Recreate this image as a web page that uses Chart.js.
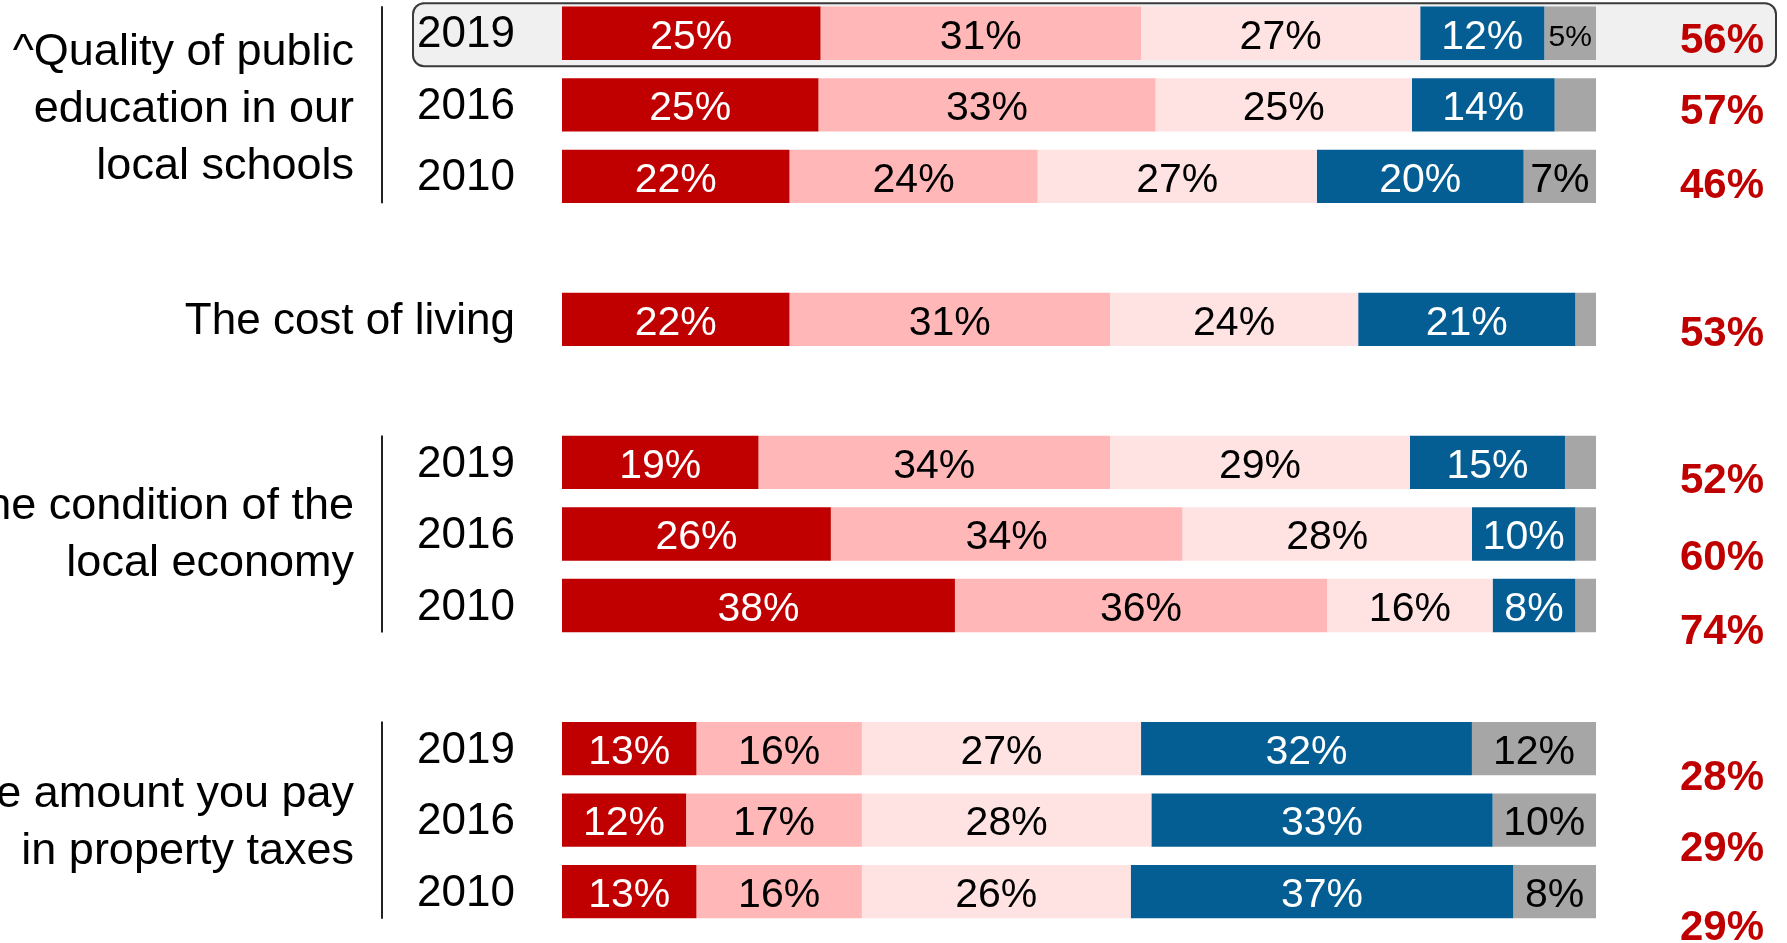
<!DOCTYPE html>
<html>
<head>
<meta charset="utf-8">
<title>Local problems</title>
<script src="https://cdn.jsdelivr.net/npm/chart.js@4.4.1/dist/chart.umd.min.js"></script>
<style>
  html, body { margin: 0; padding: 0; background: #fff; overflow: hidden; }
  #wrap { position: absolute; left: 0; top: -10px; width: 1787px; height: 960px; }
</style>
</head>
<body>
<div id="wrap"><canvas id="myChart"></canvas></div>
<script>
// rows top to bottom, "" is an empty spacer row
const rowLabels = ["2019", "2016", "2010", "", "The cost of living", "", "2019", "2016", "2010", "", "2019", "2016", "2010"];
const verySerious = [25, 24.8, 22, null, 22, null, 19, 26, 38, null, 13, 12, 13];
const somewhatSerious = [31, 32.6, 24, null, 31, null, 34, 34, 36, null, 16, 17, 16];
const notTooSerious = [27, 24.8, 27, null, 24, null, 29, 28, 16, null, 27, 28, 26];
const notSerious = [12, 13.8, 20, null, 21, null, 15, 10, 8, null, 32, 33, 37];
const dontKnow = [5, 4, 7, null, 2, null, 3, 2, 2, null, 12, 10, 8];
const netSerious = [56, 57, 46, null, 53, null, 52, 60, 74, null, 28, 29, 29];

const groupNames = [
  ["^Quality of public", "education in our", "local schools"],
  ["The condition of the", "local economy"],
  ["The amount you pay", "in property taxes"]
];
const groupRows = [[0, 2], [6, 8], [10, 12]];
const highlightRow = 0;

// layout bits (px), the net column in the original sits a bit lower than the bars
const netShift = [8, 8, 10, 0, 15, 0, 19, 24, 27, 0, 30, 29, 37];
const groupShift = [17, 14, 15];
const FONT = "'Liberation Sans', Arial, sans-serif";
const colors = ["#C00000", "#FFB7B7", "#FFE3E3", "#055E93", "#A6A6A6"];
const textColors = ["#fff", "#000", "#000", "#fff", "#000"];

const overlay = {
  id: "overlay",
  beforeDraw(chart) {
    // grey rounded box behind the highlighted row
    const ctx = chart.ctx;
    const area = chart.chartArea;
    const yc = chart.scales.y.getPixelForValue(highlightRow);
    const x0 = area.left - 149, x1 = area.right + 180;
    const y0 = yc - 30, y1 = yc + 33;
    ctx.save();
    ctx.beginPath();
    ctx.roundRect(x0, y0, x1 - x0, y1 - y0, 11);
    ctx.fillStyle = "#F0F0F0";
    ctx.fill();
    ctx.lineWidth = 2;
    ctx.strokeStyle = "#3a3a3a";
    ctx.stroke();
    ctx.restore();
  },
  afterDatasetsDraw(chart) {
    // percent inside each segment
    const ctx = chart.ctx;
    ctx.save();
    ctx.textAlign = "center";
    ctx.textBaseline = "middle";
    chart.data.datasets.forEach(function (ds, i) {
      const meta = chart.getDatasetMeta(i);
      meta.data.forEach(function (bar, j) {
        const v = ds.data[j];
        if (v == null || v < 5) return;
        const w = Math.abs(bar.x - bar.base);
        const text = Math.round(v) + "%";
        let size = 41;
        ctx.font = size + "px " + FONT;
        while (ctx.measureText(text).width > w - 8 && size > 16) {
          size--;
          ctx.font = size + "px " + FONT;
        }
        ctx.fillStyle = textColors[i];
        ctx.fillText(text, (bar.x + bar.base) / 2, bar.y + 4);
      });
    });
    ctx.restore();
  },
  afterDraw(chart) {
    const ctx = chart.ctx;
    const area = chart.chartArea;
    const y = chart.scales.y;
    ctx.save();
    // group names + separator lines
    for (let g = 0; g < groupNames.length; g++) {
      const top = y.getPixelForValue(groupRows[g][0]);
      const bottom = y.getPixelForValue(groupRows[g][1]);
      ctx.beginPath();
      ctx.moveTo(area.left - 180, top - 27);
      ctx.lineTo(area.left - 180, bottom + 27);
      ctx.lineWidth = 2;
      ctx.strokeStyle = "#222";
      ctx.stroke();

      const mid = (top + bottom) / 2;
      const lines = groupNames[g];
      ctx.font = "45px " + FONT;
      ctx.fillStyle = "#000";
      ctx.textAlign = "right";
      ctx.textBaseline = "alphabetic";
      for (let k = 0; k < lines.length; k++) {
        ctx.fillText(lines[k], area.left - 208, mid + groupShift[g] + (k - (lines.length - 1) / 2) * 57);
      }
    }
    // net serious column
    ctx.font = "bold 42px " + FONT;
    ctx.fillStyle = "#C00000";
    ctx.textAlign = "right";
    ctx.textBaseline = "middle";
    for (let i = 0; i < netSerious.length; i++) {
      if (netSerious[i] == null) continue;
      ctx.fillText(netSerious[i] + "%", area.right + 168, y.getPixelForValue(i) + netShift[i]);
    }
    ctx.restore();
  }
};

const seriesNames = ["Very serious", "Somewhat serious", "Not too serious", "Not a problem", "Don't know"];
const seriesData = [verySerious, somewhatSerious, notTooSerious, notSerious, dontKnow];
const datasets = seriesData.map(function (d, i) {
  return {
    label: seriesNames[i],
    data: d,
    backgroundColor: colors[i],
    borderWidth: 0,
    barPercentage: 0.745,
    categoryPercentage: 1
  };
});

let ctx = document.getElementById("myChart").getContext("2d");
let myChart = new Chart(ctx, {
  type: "bar",
  data: { labels: rowLabels, datasets: datasets },
  plugins: [overlay],
  options: {
    indexAxis: "y",
    responsive: true,
    maintainAspectRatio: false,
    animation: false,
    devicePixelRatio: 1,
    layout: { padding: { left: 0, right: 191, top: 7.5, bottom: 22.6 } },
    plugins: { legend: { display: false }, tooltip: { enabled: false } },
    scales: {
      x: { stacked: true, min: 0, max: 100, display: false },
      y: {
        stacked: true,
        grid: { display: false, drawTicks: false },
        border: { display: false },
        ticks: {
          autoSkip: false,
          padding: 47,
          labelOffset: 2,
          color: "#000",
          font: { family: FONT, size: 44 }
        },
        afterFit: function (scale) {
          scale.width = 562;
          // rows are offset already, no extra room needed for the end labels
          scale.paddingTop = 0;
          scale.paddingBottom = 0;
        }
      }
    }
  }
});
</script>
</body>
</html>
